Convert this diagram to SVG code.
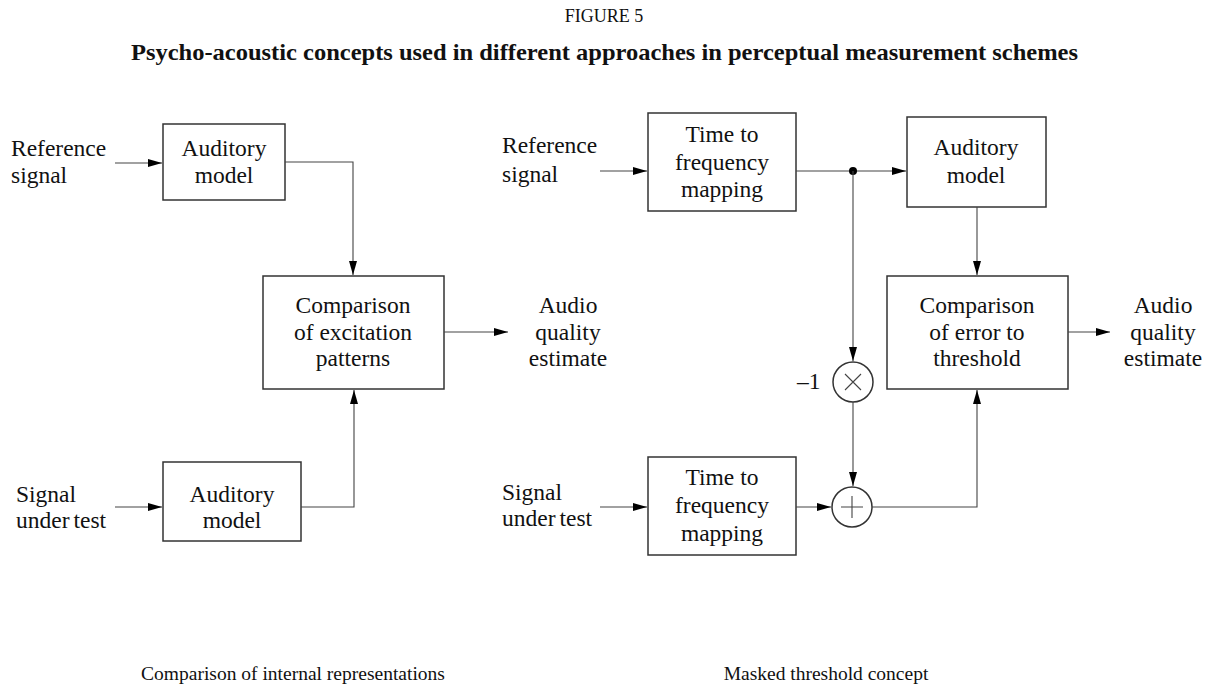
<svg xmlns="http://www.w3.org/2000/svg" width="1209" height="693" viewBox="0 0 1209 693">
  <style>
    .box { fill: #fff; stroke: #333; stroke-width: 1.5; }
    .wire { fill: none; stroke: #444; stroke-width: 1.1; }
    .arr { marker-end: url(#ah); }
    text { font-family: "Liberation Serif", "Times New Roman", serif; fill: #111; }
    .lbl { font-size: 23.5px; }
    .c { text-anchor: middle; }
    .title { font-size: 18px; text-anchor: middle; }
    .btitle { font-size: 24px; font-weight: bold; }
    .cap { font-size: 19.5px; text-anchor: middle; }
  </style>
  <defs>
    <marker id="ah" viewBox="0 0 14 8" refX="14" refY="4" markerWidth="14" markerHeight="8" markerUnits="userSpaceOnUse" orient="auto">
      <path d="M0,0 L14,4 L0,8 Z" fill="#000"/>
    </marker>
  </defs>

  <!-- headings -->
  <text class="title" x="604" y="22">FIGURE 5</text>
  <text class="btitle" x="131" y="60" textLength="947" lengthAdjust="spacingAndGlyphs">Psycho-acoustic concepts used in different approaches in perceptual measurement schemes</text>

  <!-- left scheme: comparison of internal representations -->
  <g id="ref-in-left">
    <text class="lbl" x="11" y="156">Reference</text>
    <text class="lbl" x="11" y="183">signal</text>
  </g>
  <g id="aud-model-top">
    <rect class="box" x="163" y="124" width="122" height="76"/>
    <text class="lbl c" x="224" y="156">Auditory</text>
    <text class="lbl c" x="224" y="183">model</text>
  </g>
  <g id="sut-in-left">
    <text class="lbl" x="16" y="502">Signal</text>
    <text class="lbl" x="16" y="528">under<tspan dx="4">test</tspan></text>
  </g>
  <g id="aud-model-bottom">
    <rect class="box" x="163" y="462" width="138" height="79"/>
    <text class="lbl c" x="232" y="502">Auditory</text>
    <text class="lbl c" x="232" y="528">model</text>
  </g>
  <g id="cmp-excitation">
    <rect class="box" x="263" y="276" width="181" height="113"/>
    <text class="lbl c" x="353" y="313">Comparison</text>
    <text class="lbl c" x="353" y="340">of excitation</text>
    <text class="lbl c" x="353" y="366">patterns</text>
  </g>
  <g id="out-left">
    <text class="lbl c" x="568" y="313">Audio</text>
    <text class="lbl c" x="568" y="340">quality</text>
    <text class="lbl c" x="568" y="366">estimate</text>
  </g>

  <!-- right scheme: masked threshold concept -->
  <g id="ref-in-right">
    <text class="lbl" x="502" y="153">Reference</text>
    <text class="lbl" x="502" y="182">signal</text>
  </g>
  <g id="tf-map-top">
    <rect class="box" x="648" y="113" width="148" height="98"/>
    <text class="lbl c" x="722" y="142">Time to</text>
    <text class="lbl c" x="722" y="170">frequency</text>
    <text class="lbl c" x="722" y="197">mapping</text>
  </g>
  <g id="aud-model-right">
    <rect class="box" x="907" y="117" width="139" height="90"/>
    <text class="lbl c" x="976" y="155">Auditory</text>
    <text class="lbl c" x="976" y="183">model</text>
  </g>
  <g id="cmp-threshold">
    <rect class="box" x="887" y="276" width="181" height="113"/>
    <text class="lbl c" x="977" y="313">Comparison</text>
    <text class="lbl c" x="977" y="340">of error to</text>
    <text class="lbl c" x="977" y="366">threshold</text>
  </g>
  <g id="out-right">
    <text class="lbl c" x="1163" y="313">Audio</text>
    <text class="lbl c" x="1163" y="340">quality</text>
    <text class="lbl c" x="1163" y="366">estimate</text>
  </g>
  <g id="multiplier">
    <circle class="box" cx="853" cy="382" r="20"/>
    <path class="wire" d="M845,374 L861,390 M861,374 L845,390" stroke-width="1.4"/>
    <text class="lbl" x="797" y="389">–1</text>
  </g>
  <g id="sut-in-right">
    <text class="lbl" x="502" y="500">Signal</text>
    <text class="lbl" x="502" y="526">under<tspan dx="4">test</tspan></text>
  </g>
  <g id="tf-map-bottom">
    <rect class="box" x="648" y="457" width="148" height="98"/>
    <text class="lbl c" x="722" y="485">Time to</text>
    <text class="lbl c" x="722" y="513">frequency</text>
    <text class="lbl c" x="722" y="541">mapping</text>
  </g>
  <g id="adder">
    <circle class="box" cx="852" cy="507" r="20"/>
    <path class="wire" d="M841,507 L863,507 M852,496 L852,518" stroke-width="1.4"/>
  </g>

  <!-- connectors -->
  <g id="connectors">
    <path class="wire arr" d="M115,163 L162,163"/>
    <path class="wire arr" d="M285,162 L353,162 L353,275"/>
    <path class="wire arr" d="M115,507 L162,507"/>
    <path class="wire arr" d="M301,507 L354,507 L354,390"/>
    <path class="wire arr" d="M444,332 L508,332"/>

    <path class="wire arr" d="M600,171 L647,171"/>
    <path class="wire arr" d="M796,171 L906,171"/>
    <circle cx="853" cy="171" r="4" fill="#000"/>
    <path class="wire arr" d="M853,171 L853,361"/>
    <path class="wire arr" d="M977,207 L977,275"/>
    <path class="wire arr" d="M1068,332 L1110,332"/>
    <path class="wire arr" d="M853,402 L853,486"/>
    <path class="wire arr" d="M600,507 L647,507"/>
    <path class="wire arr" d="M796,507 L831,507"/>
    <path class="wire arr" d="M872,507 L977,507 L977,390"/>
  </g>

  <!-- captions -->
  <text class="cap" x="293" y="680">Comparison of internal representations</text>
  <text class="cap" x="826" y="680">Masked threshold concept</text>
</svg>
